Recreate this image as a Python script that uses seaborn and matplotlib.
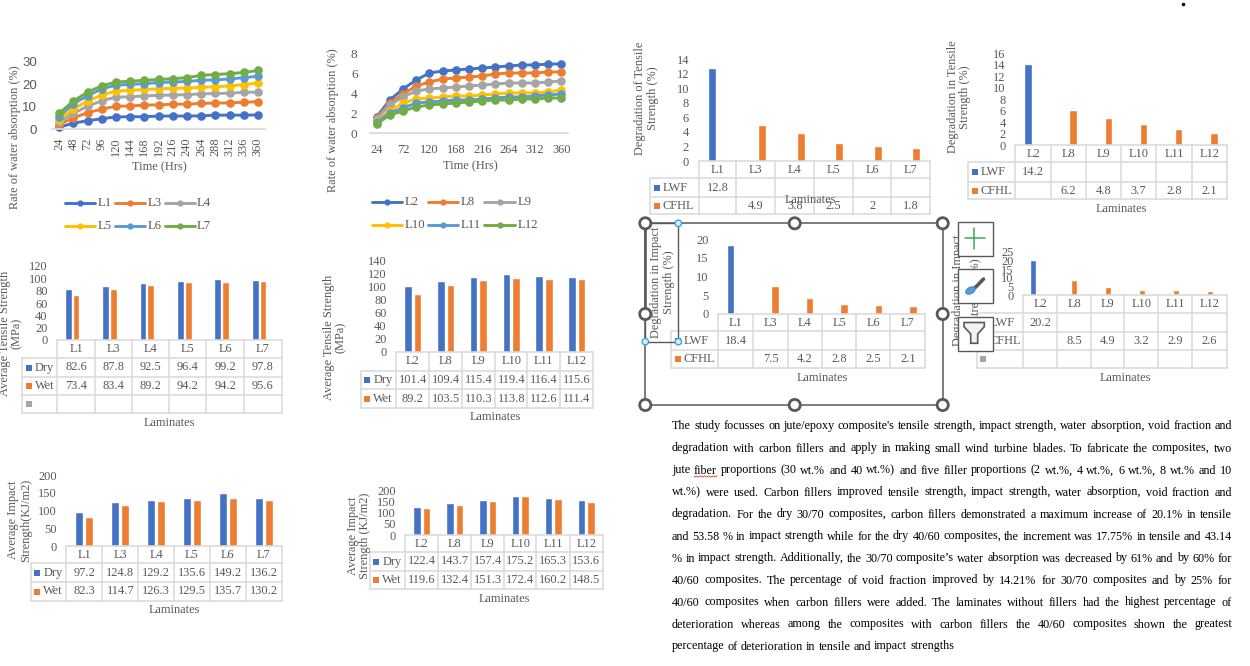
import numpy as np
import pandas as pd
import matplotlib
matplotlib.use("Agg")
import matplotlib.pyplot as plt
from matplotlib.patches import Rectangle, Circle, Polygon, Ellipse
import seaborn as sns

W, H = 1250, 666
BLUE, ORANGE, GREY, YELLOW, SKY, GREEN = "#4472C4", "#ED7D31", "#A5A5A5", "#FFC000", "#5B9BD5", "#70AD47"
LINE_COLORS = [BLUE, ORANGE, GREY, YELLOW, SKY, GREEN]
TXT = "#595959"
GRID = "#D9D9D9"
FS = 8.9

# water absorption, 30/70 laminates
hours = list(range(24, 361, 24))
names_a = ["L1", "L3", "L4", "L5", "L6", "L7"]
L1 = [0.8, 2.6, 3.7, 4.6, 5.4, 5.5, 5.5, 5.8, 5.8, 5.8, 5.9, 6.2, 6.2, 6.2, 6.3]
L3 = [2, 5, 7.3, 8.9, 10.2, 10.3, 10.7, 10.8, 11.1, 11.1, 11.5, 11.6, 11.7, 12, 12.2]
L4 = [3, 7, 10.2, 12.6, 14.3, 14.4, 14.8, 15.1, 15.2, 15.4, 15.7, 15.9, 16, 16.4, 16.5]
L5 = [4, 9, 12.4, 15.2, 17, 17.3, 17.7, 18, 18.2, 18.3, 18.7, 18.9, 19.3, 19.9, 20.6]
L6 = [5.5, 11.3, 14.8, 18, 19.6, 20, 20.3, 20.8, 21, 21.3, 21.8, 22, 22.4, 23, 23.6]
L7 = [7, 12.5, 16.5, 19.3, 21, 21.4, 21.8, 22.2, 22.5, 23, 24, 24.4, 24.8, 25.3, 26.2]

# water absorption, 40/60 laminates
names_b = ["L2", "L8", "L9", "L10", "L11", "L12"]
L2 = [1.6, 3.3, 4.4, 5.3, 6, 6.2, 6.3, 6.4, 6.5, 6.6, 6.7, 6.8, 6.8, 6.9, 6.9]
L8 = [1.5, 3, 3.9, 4.7, 5.1, 5.4, 5.5, 5.6, 5.7, 5.9, 6, 6, 6, 6.1, 6.1]
L9 = [1.4, 2.8, 3.6, 4.2, 4.4, 4.5, 4.6, 4.7, 4.8, 4.9, 5, 5, 5, 5.1, 5.2]
L10 = [1.2, 2.2, 3, 3.4, 3.5, 3.6, 3.7, 3.7, 3.8, 3.9, 4, 4, 4, 4.1, 4.3]
L11 = [1.1, 2, 2.5, 3, 3.1, 3.2, 3.3, 3.3, 3.4, 3.5, 3.6, 3.6, 3.7, 3.8, 3.9]
L12 = [0.9, 1.8, 2.2, 2.6, 2.8, 2.9, 3, 3.1, 3.2, 3.3, 3.3, 3.4, 3.4, 3.5, 3.5]

NA = float("nan")
EMPTY = [NA] * 6

tensile_dry_a = [82.6, 87.8, 92.5, 96.4, 99.2, 97.8]
tensile_wet_a = [73.4, 83.4, 89.2, 94.2, 94.2, 95.6]
tensile_dry_b = [101.4, 109.4, 115.4, 119.4, 116.4, 115.6]
tensile_wet_b = [89.2, 103.5, 110.3, 113.8, 112.6, 111.4]
impact_dry_a = [97.2, 124.8, 129.2, 135.6, 149.2, 136.2]
impact_wet_a = [82.3, 114.7, 126.3, 129.5, 135.7, 130.2]
impact_dry_b = [122.4, 143.7, 157.4, 175.2, 165.3, 153.6]
impact_wet_b = [119.6, 132.4, 151.3, 172.4, 160.2, 148.5]

deg_tensile_lwf_a = [12.8, NA, NA, NA, NA, NA]
deg_tensile_cfhl_a = [NA, 4.9, 3.8, 2.5, 2, 1.8]
deg_tensile_lwf_b = [14.2, NA, NA, NA, NA, NA]
deg_tensile_cfhl_b = [NA, 6.2, 4.8, 3.7, 2.8, 2.1]
deg_impact_lwf_a = [18.4, NA, NA, NA, NA, NA]
deg_impact_cfhl_a = [NA, 7.5, 4.2, 2.8, 2.5, 2.1]
deg_impact_lwf_b = [20.2, NA, NA, NA, NA, NA]
deg_impact_cfhl_b = [NA, 8.5, 4.9, 3.2, 2.9, 2.6]

paragraph = [
    "The study focusses on jute/epoxy composite's tensile strength, impact strength, water absorption, void fraction and",
    "degradation with carbon fillers and apply in making small wind turbine blades. To fabricate the composites, two",
    "jute fiber proportions (30 wt.% and 40 wt.%) and five filler proportions (2 wt.%, 4 wt.%, 6 wt.%, 8 wt.% and 10",
    "wt.%) were used. Carbon fillers improved tensile strength, impact strength, water absorption, void fraction and",
    "degradation. For the dry 30/70 composites, carbon fillers demonstrated a maximum increase of 20.1% in tensile",
    "and 53.58 % in impact strength while for the dry 40/60 composites, the increment was 17.75% in tensile and 43.14",
    "% in impact strength. Additionally, the 30/70 composite\u2019s water absorption was decreased by 61% and by 60% for",
    "40/60 composites. The percentage of void fraction improved by 14.21% for 30/70 composites and by 25% for",
    "40/60 composites when carbon fillers were added. The laminates without fillers had the highest percentage of",
    "deterioration whereas among the composites with carbon fillers the 40/60 composites shown the greatest",
    "percentage of deterioration in tensile and impact strengths",
]
para_y = [429, 451.5, 473.5, 495.5, 517.5, 539.5, 561.5, 583.5, 605.5, 627.5, 649.5]

sns.set_theme(style="white")
plt.rcParams["font.family"] = ["Liberation Serif", "DejaVu Serif"]
plt.rcParams["font.size"] = FS

fig = plt.figure(figsize=(W / 100, H / 100), dpi=100)
ov = fig.add_axes([0, 0, 1, 1], zorder=5)
ov.set_xlim(0, W)
ov.set_ylim(H, 0)
ov.axis("off")


def px_axes(left, top, right, bottom):
    ax = fig.add_axes([left / W, 1 - bottom / H, (right - left) / W, (bottom - top) / H])
    ax.patch.set_visible(False)
    return ax


def label(x, y, s, rot=0, color=TXT, **kw):
    ov.text(x, y, s, rotation=rot, color=color, ha="center", va="center", fontsize=FS,
            linespacing=1.05, **kw)


def line_panel(names, series, box, ymax, ystep, xticks, rot, tick_font, legend_xs, legend_ys, pad, xpad):
    left, top, right, bottom = box
    df = pd.DataFrame({"hrs": hours * 6,
                       "val": [v for s in series for v in s],
                       "lam": [n for n in names for _ in hours]})
    ax = px_axes(left, top, right, bottom)
    sns.lineplot(data=df, x="hrs", y="val", hue="lam", hue_order=names, palette=LINE_COLORS,
                 marker="o", markersize=6.2, markeredgewidth=0, linewidth=2.1, legend=False,
                 clip_on=False, ax=ax)
    ax.set_xlim(12, 372)
    ax.set_ylim(0, ymax)
    ax.set_yticks(range(0, ymax + 1, ystep))
    ax.set_xticks(xticks)
    ax.set_xlabel("")
    ax.set_ylabel("")
    ax.tick_params(axis="y", length=0, pad=pad, colors=TXT, labelsize=FS + 0.6)
    ax.tick_params(axis="x", length=0, pad=xpad, colors=TXT, labelsize=FS, labelrotation=rot)
    if tick_font:
        ax.set_yticks(range(0, ymax + 1, ystep), [str(v) for v in range(0, ymax + 1, ystep)],
                      family=tick_font)
    sns.despine(ax=ax, left=True)
    ax.spines["bottom"].set_color(GRID)
    for i, n in enumerate(names):
        x0, x1, xt = legend_xs[i % 3]
        y = legend_ys[i // 3]
        ov.plot([x0, x1], [y, y], color=LINE_COLORS[i], lw=2.1, solid_capstyle="round")
        ov.plot([(x0 + x1) / 2], [y], "o", color=LINE_COLORS[i], ms=4.5, mew=0)
        ov.text(xt, y, n, color=TXT, fontsize=FS + 0.3, va="center", ha="left")


def bar_panel(cats, rows, colors, cols, ys, ytop, ymax, ystep, width, gap, pad=7):
    # rows is a list of (series name, values); cols and ys are the table grid lines
    df = pd.DataFrame({"lam": cats * len(rows),
                       "val": [v for _, r in rows for v in r],
                       "ser": [n for n, r in rows for _ in r]})
    ax = px_axes(cols[1], ytop, cols[-1], ys[0])
    sns.barplot(data=df, x="lam", y="val", hue="ser", order=cats,
                hue_order=[n for n, _ in rows], palette=dict(zip([n for n, _ in rows], colors)),
                width=width, gap=gap, saturation=1, errorbar=None, legend=False, ax=ax)
    ax.set_xlim(-0.5, len(cats) - 0.5)
    ax.set_ylim(0, ymax)
    ax.set_yticks(range(0, ymax + 1, ystep))
    ax.set_xticks([])
    ax.set_xlabel("")
    ax.set_ylabel("")
    ax.tick_params(axis="y", length=0, pad=pad, colors=TXT, labelsize=FS)
    sns.despine(ax=ax, left=True, bottom=True)

    for i, y in enumerate(ys):
        ov.plot([cols[1] if i == 0 else cols[0], cols[-1]], [y, y], color=GRID, lw=1.1)
    for i, x in enumerate(cols):
        ov.plot([x, x], [ys[1] if i == 0 else ys[0], ys[-1]], color=GRID, lw=1.1)
    for j, c in enumerate(cats):
        label((cols[j + 1] + cols[j + 2]) / 2, (ys[0] + ys[1]) / 2, c)
    for i, (name, vals) in enumerate(rows):
        yc = (ys[i + 1] + ys[i + 2]) / 2
        ov.add_patch(Rectangle((cols[0] + 3.5, yc - 3), 6, 6, color=colors[i], lw=0))
        ov.text(cols[0] + 12.5, yc, name, color=TXT, fontsize=FS, va="center", ha="left")
        for j, v in enumerate(vals):
            if not np.isnan(v):
                label((cols[j + 1] + cols[j + 2]) / 2, yc, f"{v:g}")


# line charts
line_panel(names_a, [L1, L3, L4, L5, L6, L7], (52, 62, 265, 129), 30, 10, hours, 90, "Liberation Sans",
           [(65, 95, 98), (115, 145, 147.5), (165, 195, 197)], [203, 226], 11, 6)
label(159, 167, "Time (Hrs)")
label(15, 137, "Rate of water absorption (%)", rot=90)

line_panel(names_b, [L2, L8, L9, L10, L11, L12], (370, 53, 568, 133), 8, 2, hours[::2], 0, None,
           [(372, 402, 405), (428, 458, 461), (484, 515, 517.5)], [202, 225], 9, 8)
label(470, 166, "Time (Hrs)")
label(333, 120, "Rate of water absorption (%)", rot=90)

# tensile strength
bar_panel(names_a, [("Dry", tensile_dry_a), ("Wet", tensile_wet_a), (" ", EMPTY)], [BLUE, ORANGE, GREY],
          [22, 57.3, 95.3, 132.3, 169.3, 206.3, 244.3, 281.7], [340, 358.3, 376.7, 395.3, 413.3],
          266, 120, 20, 0.63, 0.125)
label(169, 423, "Laminates")
label(11, 333, "Average Tensile Strength\n(MPa)", rot=90)

bar_panel(names_b, [("Dry", tensile_dry_b), ("Wet", tensile_wet_b)], [BLUE, ORANGE],
          [360.7, 396.3, 429.3, 462.3, 495.3, 527.3, 560.3, 593.3], [352, 371, 389.3, 408.3],
          260.7, 140, 20, 0.58, 0.2)
label(495, 417, "Laminates")
label(335, 337, "Average Tensile Strength\n(MPa)", rot=90)

# impact strength
bar_panel(names_a, [("Dry", impact_dry_a), ("Wet", impact_wet_a)], [BLUE, ORANGE],
          [30.7, 66.3, 102.3, 138.3, 174.3, 209.7, 245.7, 281.7], [546.3, 563.3, 582.3, 600.7],
          475, 200, 50, 0.556, 0.2)
label(174, 610, "Laminates")
label(19.5, 520, "Average Impact\nStrength(KJ/m2)", rot=90)

bar_panel(names_b, [("Dry", impact_dry_b), ("Wet", impact_wet_b)], [BLUE, ORANGE],
          [369.7, 405.3, 438.3, 471.3, 504.3, 536.3, 569.7, 602.7], [535, 552.3, 570.7, 589.3],
          490, 200, 50, 0.58, 0.2)
label(504, 599, "Laminates")
label(359, 536, "Average Impact\nStrength (KJ/m2)", rot=90)

# degradation
bar_panel(names_a, [("LWF", deg_tensile_lwf_a), ("CFHL", deg_tensile_cfhl_a)], [BLUE, ORANGE],
          [650.3, 698.7, 736.3, 775.3, 814.3, 853, 891.3, 930], [161, 178.3, 197, 214.3],
          59.3, 14, 2, 0.58, 0.27)
label(810, 200, "Laminates")
label(646.5, 98, "Degradation of Tensile\nStrength (%)", rot=90)

bar_panel(names_b, [("LWF", deg_tensile_lwf_b), ("CFHL", deg_tensile_cfhl_b)], [BLUE, ORANGE],
          [968.3, 1015.3, 1050.7, 1085.7, 1120.7, 1156.3, 1191.7, 1226.7], [145.3, 162.3, 181.7, 199.3],
          53.3, 16, 2, 0.56, 0.25)
label(1121, 209, "Laminates")
label(959, 97, "Degradation in Tensile\nStrength (%)", rot=90)

bar_panel(names_a, [("LWF", deg_impact_lwf_a), ("CFHL", deg_impact_cfhl_a)], [BLUE, ORANGE],
          [671.3, 718.3, 753.3, 787.7, 822.3, 856.3, 890.3, 925.3], [314, 331.3, 350.3, 368.3],
          239.3, 20, 5, 0.56, 0.25)
label(822, 378, "Laminates")
label(662.5, 282, "Degradation in Impact\nStrength (%)", rot=90)

bar_panel(names_b, [("LWF", deg_impact_lwf_b), ("CFHL", deg_impact_cfhl_b), (" ", EMPTY)], [BLUE, ORANGE, GREY],
          [976.7, 1023.3, 1057.3, 1091.3, 1124.3, 1158.3, 1192.3, 1226.7], [295.3, 313.3, 331.7, 350.3, 368.3],
          251.7, 25, 5, 0.645, 0.18)
label(1125, 378, "Laminates")
label(958, 290, "Degradation in Impact", rot=90)
label(976, 290, "Strength (%)", rot=90)

# selection frame left over from the word processor
EDGE = "#595959"
ov.add_patch(Rectangle((645.3, 223.3), 297.4, 181.7, fill=False, ec=EDGE, lw=1.1, zorder=6))
ov.add_patch(Rectangle((645.3, 223.3), 33, 118.4, fill=False, ec=EDGE, lw=1.0, zorder=6))
ov.plot([645.3, 645.3], [223.3, 314], color=EDGE, lw=1.8, zorder=6)
for hx, hy in [(645.3, 223.3), (794.7, 223.3), (942.7, 223.3), (645.3, 314), (942.7, 314),
               (645.3, 405), (794.7, 405), (942.7, 405)]:
    ov.add_patch(Circle((hx, hy), 5.6, fc="white", ec=EDGE, lw=2, zorder=7))
for hx, hy in [(678.3, 223.3), (645.3, 341.7), (678.3, 341.7)]:
    ov.add_patch(Circle((hx, hy), 3.2, fc="#DCEBF9", ec="#2E9BE6", lw=0.9, zorder=7))

# chart buttons
for by in [222.3, 269.3, 316.7]:
    ov.add_patch(Rectangle((958.3, by), 34.4, 34, fc="white", ec=EDGE, lw=1.0, zorder=8))
ov.plot([964.5, 985], [238.3, 238.3], color="#3DAA57", lw=1.1, zorder=9)
ov.plot([974.3, 974.3], [228.3, 248.5], color="#3DAA57", lw=1.1, zorder=9)
ov.plot([983.5, 975.5], [279, 287.3], color=EDGE, lw=2.6, solid_capstyle="round", zorder=9)
ov.add_patch(Ellipse((970.5, 290.5), 10.5, 6.5, angle=-30, fc=SKY, ec="#2F75B5", lw=0.5, zorder=9))
ov.add_patch(Polygon([(964, 322.5), (984.3, 322.5), (984.3, 326.7), (977.7, 334), (977.7, 343.3),
                      (970.7, 343.3), (970.7, 334), (964, 326.7)], closed=True,
                     fc="#F2F2F2", ec=EDGE, lw=1.2, zorder=9))

# stray bullet at the top
ov.plot([1183], [3.5], "o", color="black", ms=2.6, mew=0)

# justified paragraph, one word at a time
renderer = fig.canvas.get_renderer()
PARA_L, PARA_R = 672, 1232
PARA_FS = 8.7
for i, (line, y) in enumerate(zip(paragraph, para_y)):
    words = line.split(" ")
    items = [ov.text(0, y, w, color="black", fontsize=PARA_FS, va="baseline", ha="left") for w in words]
    widths = [t.get_window_extent(renderer).width for t in items]
    if i == len(paragraph) - 1:
        space = PARA_FS * 100 / 72 * 0.25
    else:
        space = (PARA_R - PARA_L - sum(widths)) / (len(words) - 1)
    x = PARA_L
    for w, t, wd in zip(words, items, widths):
        t.set_x(x)
        if w == "fiber":
            sq = np.linspace(x, x + wd, 12)
            ov.plot(sq, y + 3 + 0.6 * (-1.0) ** np.arange(12), color="#E03030", lw=0.6)
        x += wd + space

ov.set_xlim(0, W)
ov.set_ylim(H, 0)
fig.savefig("out.png", dpi=100)
